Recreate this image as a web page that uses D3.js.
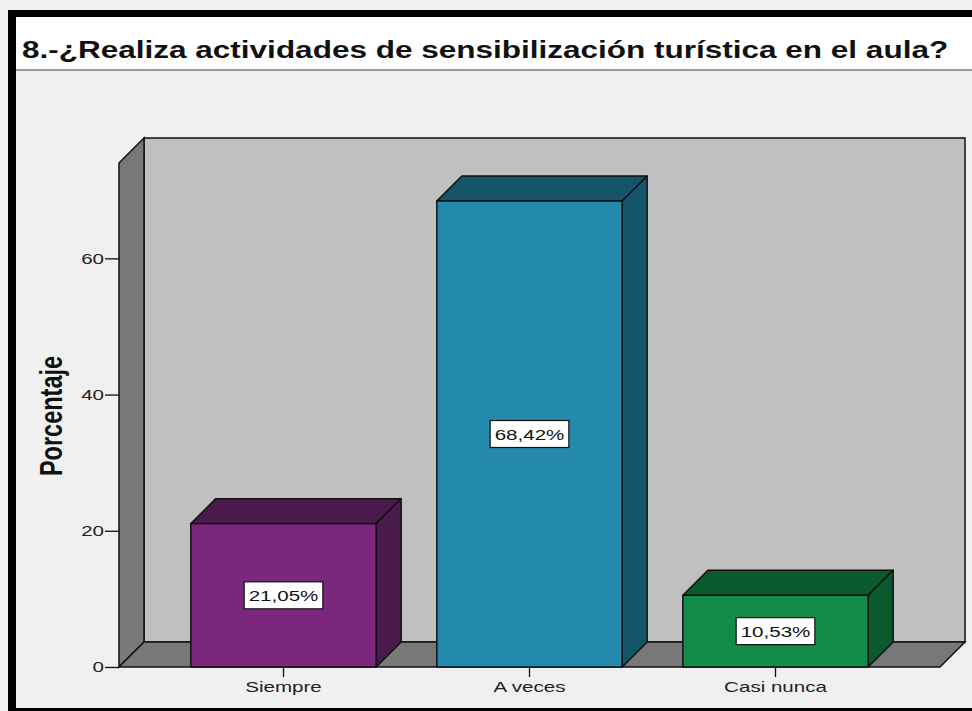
<!DOCTYPE html>
<html>
<head>
<meta charset="utf-8">
<script src="https://cdn.jsdelivr.net/npm/d3@7"></script>
<style>
  body { margin: 0; background: #ffffff; }
  svg { display: block; }
</style>
</head>
<body>
<div id="mychart"></div>
<script>
// 3D bar chart, SPSS style (text stretched horizontally like the source)

const chartTarget = "#mychart"

// data
const categories = ["Siempre", "A veces", "Casi nunca"]
const percentages = [21.05, 68.42, 10.53]
const valueLabels = ["21,05%", "68,42%", "10,53%"]
const yTicks = [0, 20, 40, 60]
const frontColors = ["#7b277d", "#238aad", "#128c48"]
const darkColors = ["#4b1a4d", "#15556a", "#0b5a2e"]

const titleText = "8.-¿Realiza actividades de sensibilización turística en el aula?"
const yTitle = "Porcentaje"

// size
const chartWidth = 972
const chartHeight = 711
const stretch = 1.37 // horizontal text stretch
const depth = 25 // 3D offset

// plot area (front plane)
const plotLeft = 119
const plotRight = 940
const plotBottom = 667
const plotTop = 163

const xScale = d3.scaleBand(categories, [plotLeft, plotRight])
  .paddingInner(0.2467)
  .paddingOuter(0.292)
const yScale = d3.scaleLinear([0, 74], [plotBottom, plotTop])

const svg = d3.select(chartTarget)
  .append("svg")
  .attr("width", chartWidth)
  .attr("height", chartHeight)
  .attr("viewBox", [0, 0, chartWidth, chartHeight])
  .style("font-family", "'Liberation Sans', Arial, sans-serif")

// background + frame
svg.append("rect").attr("width", chartWidth).attr("height", chartHeight).attr("fill", "#f0f0f0")
svg.append("rect").attr("x", 16).attr("y", 17).attr("width", chartWidth - 16).attr("height", 52).attr("fill", "#ffffff")
svg.append("rect").attr("x", 16).attr("y", 69).attr("width", chartWidth - 16).attr("height", 2).attr("fill", "#9a9a9a")
svg.append("rect").attr("x", 8).attr("y", 10).attr("width", chartWidth - 8).attr("height", 7).attr("fill", "#000")
svg.append("rect").attr("x", 8).attr("y", 10).attr("width", 8).attr("height", chartHeight - 10).attr("fill", "#000")
svg.append("rect").attr("x", 8).attr("y", 708).attr("width", chartWidth - 8).attr("height", 3).attr("fill", "#000")

// title
svg.append("text")
  .attr("transform", `translate(22,58) scale(${stretch},1)`)
  .attr("font-size", "23px")
  .attr("font-weight", "bold")
  .attr("fill", "#111")
  .text(titleText)

// walls
const y0 = yScale(0)
const yMax = yScale(yScale.domain()[1])
const wallStroke = "#111"

svg.append("polygon") // back wall
  .attr("points", [[plotLeft + depth, yMax - depth], [plotRight + depth, yMax - depth],
    [plotRight + depth, y0 - depth], [plotLeft + depth, y0 - depth]].join(" "))
  .attr("fill", "#c0c0c0").attr("stroke", wallStroke).attr("stroke-width", 1.5)

svg.append("polygon") // left wall
  .attr("points", [[plotLeft, yMax], [plotLeft + depth, yMax - depth],
    [plotLeft + depth, y0 - depth], [plotLeft, y0]].join(" "))
  .attr("fill", "#787878").attr("stroke", wallStroke).attr("stroke-width", 1.5)

svg.append("polygon") // floor
  .attr("points", [[plotLeft, y0], [plotLeft + depth, y0 - depth],
    [plotRight + depth, y0 - depth], [plotRight, y0]].join(" "))
  .attr("fill", "#787878").attr("stroke", wallStroke).attr("stroke-width", 1.5)

// y axis
svg.append("g")
  .attr("transform", `translate(${plotLeft},0)`)
  .call(d3.axisLeft(yScale).tickValues(yTicks).tickSize(14).tickPadding(2))
  .call(g => g.select(".domain").remove())
  .call(g => g.selectAll(".tick line").attr("stroke", "#111").attr("stroke-width", 1.3))
  .call(g => g.selectAll(".tick text")
    .attr("font-family", "'Liberation Sans', Arial, sans-serif")
    .attr("font-size", "15px")
    .attr("fill", "#222")
    .attr("x", null)
    .attr("transform", `translate(-15,0) scale(${stretch},1)`))

// y title
svg.append("text")
  .attr("transform", `translate(62,416) scale(${stretch},1) rotate(-90)`)
  .attr("text-anchor", "middle")
  .attr("font-size", "23.5px")
  .attr("font-weight", "bold")
  .attr("fill", "#111")
  .text(yTitle)

// x axis
svg.append("g")
  .attr("transform", `translate(0,${y0})`)
  .call(d3.axisBottom(xScale).tickSize(10).tickPadding(4))
  .call(g => g.select(".domain").remove())
  .call(g => g.selectAll(".tick line").attr("stroke", "#111").attr("stroke-width", 1.3))
  .call(g => g.selectAll(".tick text")
    .attr("font-family", "'Liberation Sans', Arial, sans-serif")
    .attr("font-size", "15px")
    .attr("fill", "#222")
    .attr("transform", `scale(${stretch},1)`))

// bars
const bars = svg.append("g")
  .selectAll("g")
  .data(categories)
  .join("g")

const bw = xScale.bandwidth()

bars.each(function (c, i) {
  const g = d3.select(this)
  const x0 = xScale(c)
  const x1 = x0 + bw
  const yt = yScale(percentages[i])
  // top face
  g.append("polygon")
    .attr("points", [[x0, yt], [x0 + depth, yt - depth], [x1 + depth, yt - depth], [x1, yt]].join(" "))
    .attr("fill", darkColors[i]).attr("stroke", "#111").attr("stroke-width", 1.5).attr("stroke-linejoin", "round")
  // side face
  g.append("polygon")
    .attr("points", [[x1, yt], [x1 + depth, yt - depth], [x1 + depth, y0 - depth], [x1, y0]].join(" "))
    .attr("fill", darkColors[i]).attr("stroke", "#111").attr("stroke-width", 1.5).attr("stroke-linejoin", "round")
  // front face
  g.append("rect")
    .attr("x", x0).attr("y", yt).attr("width", bw).attr("height", y0 - yt)
    .attr("fill", frontColors[i]).attr("stroke", "#111").attr("stroke-width", 1.5)

  // value label
  const cx = x0 + bw / 2
  const cy = (yt + y0) / 2
  const box = g.append("rect")
  const t = g.append("text")
    .attr("transform", `translate(${cx},${cy + 5.5}) scale(${stretch},1)`)
    .attr("text-anchor", "middle")
    .attr("font-size", "15px")
    .attr("fill", "#111")
    .text(valueLabels[i])
  const w = t.node().getComputedTextLength() * stretch + 9
  const h = 27
  box.attr("x", cx - w / 2).attr("y", cy - h / 2).attr("width", w).attr("height", h)
    .attr("fill", "#fff").attr("stroke", "#111").attr("stroke-width", 1.2)
})
</script>
</body>
</html>
